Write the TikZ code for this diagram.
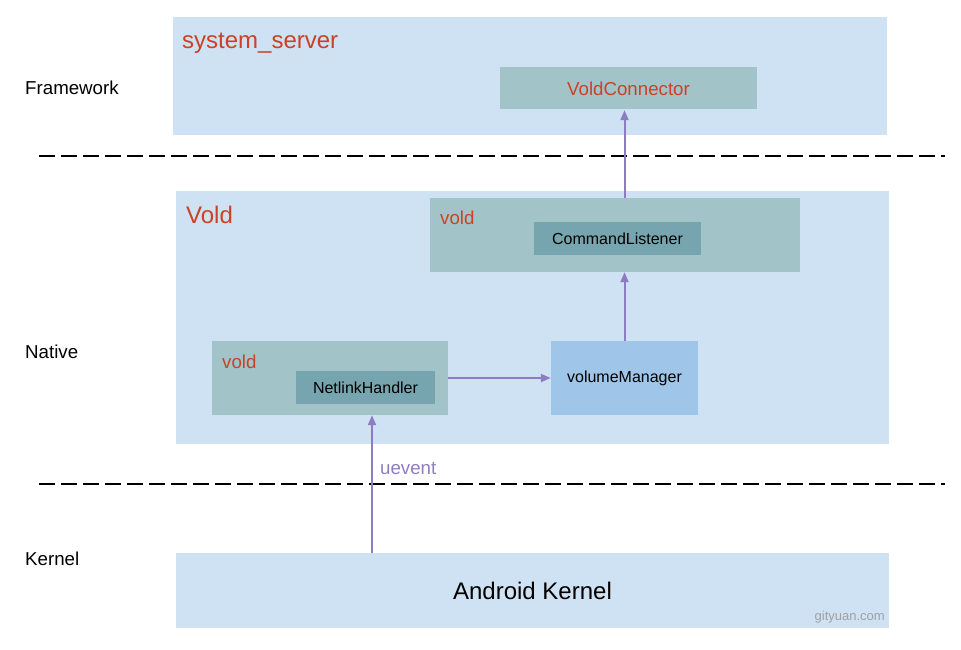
\documentclass[tikz,border=0pt]{standalone}
\usepackage{fontspec}
\setmainfont{Liberation Sans}
\usetikzlibrary{arrows.meta}
\definecolor{outerblue}{HTML}{CFE2F3}
\definecolor{tealbox}{HTML}{A2C4C9}
\definecolor{darkteal}{HTML}{76A5AF}
\definecolor{volblue}{HTML}{9FC5E8}
\definecolor{redtxt}{HTML}{CC4125}
\definecolor{arrowc}{HTML}{8E7CC3}
\definecolor{wmgrey}{HTML}{A0A0A0}
\tikzset{
  box/.style={draw=none, fill=#1, inner sep=0pt},
  lbl/.style={anchor=west, inner sep=0pt, font=\fontsize{18.7}{20}\selectfont},
  flow/.style={draw=arrowc, line width=2pt, -{Triangle[length=10pt,width=8pt]}},
  sep/.style={draw=black, line width=2pt, dash pattern=on 16pt off 6pt},
}
\begin{document}
\begin{tikzpicture}[x=1pt,y=-1pt]
\useasboundingbox (0,0) rectangle (961,649);
% layer labels
\node[lbl] (fw) at (25,88) {Framework};
\node[lbl] (nat) at (25,352) {Native};
\node[lbl] (ker) at (25,559) {Kernel};
% separators
\coordinate (s1a) at (39,156); \coordinate (s1b) at (945,156);
\coordinate (s2a) at (39,484); \coordinate (s2b) at (945,484);
\draw[sep] (s1a) -- (s1b);
\draw[sep] (s2a) -- (s2b);
% framework
\fill[outerblue] (173,17) rectangle (887,135);
\node[anchor=west, inner sep=0pt, text=redtxt, font=\fontsize{24}{26}\selectfont] (ss) at (182,43) {system\_server};
\fill[tealbox] (500,67) rectangle (757,109);
\node[inner sep=0pt, minimum width=257pt, minimum height=42pt, text=redtxt, font=\fontsize{18.7}{20}\selectfont] (vc) at (628.5,89) {VoldConnector};
% native
\fill[outerblue] (176,191) rectangle (889,444);
\node[anchor=west, inner sep=0pt, text=redtxt, font=\fontsize{24}{26}\selectfont] (vold) at (186,215) {Vold};
% vold box 1
\node[box=tealbox, minimum width=370pt, minimum height=74pt] (v1) at (615,235) {};
\node[lbl, text=redtxt] (v1l) at (440,218) {vold};
\node[box=darkteal, minimum width=167pt, minimum height=33pt, font=\fontsize{16}{18}\selectfont] (cl) at (617.5,238.5) {CommandListener};
% vold box 2
\node[box=tealbox, minimum width=236pt, minimum height=74pt] (v2) at (330,378) {};
\node[lbl, text=redtxt] (v2l) at (222,362) {vold};
\node[box=darkteal, minimum width=139pt, minimum height=33pt, font=\fontsize{16}{18}\selectfont] (nh) at (365.5,387.5) {NetlinkHandler};
% volume manager
\node[box=volblue, minimum width=147pt, minimum height=74pt, font=\fontsize{16}{18}\selectfont] (vm) at (624.5,378) {volumeManager};
% kernel
\node[box=outerblue, minimum width=713pt, minimum height=75pt, font=\fontsize{24}{26}\selectfont] (ak) at (532.5,590.5) {Android Kernel};
\node[anchor=east, inner sep=0pt, text=wmgrey, font=\fontsize{13}{15}\selectfont] (wm) at (885,617) {gityuan.com};
% arrows
\draw[flow] (v2.east |- 0,378) -- (vm.west);
\draw[flow] (vm.north) -- (v1.south -| vm.north);
\draw[flow] (v1.north -| vm.north) -- (vc.south -| vm.north);
\coordinate (ue) at (372,553);
\draw[flow] (ue) -- (ue |- v2.south);
\node[anchor=west, inner sep=0pt, text=arrowc, font=\fontsize{18.7}{20}\selectfont] (uel) at (380,469) {uevent};
\end{tikzpicture}
\end{document}
